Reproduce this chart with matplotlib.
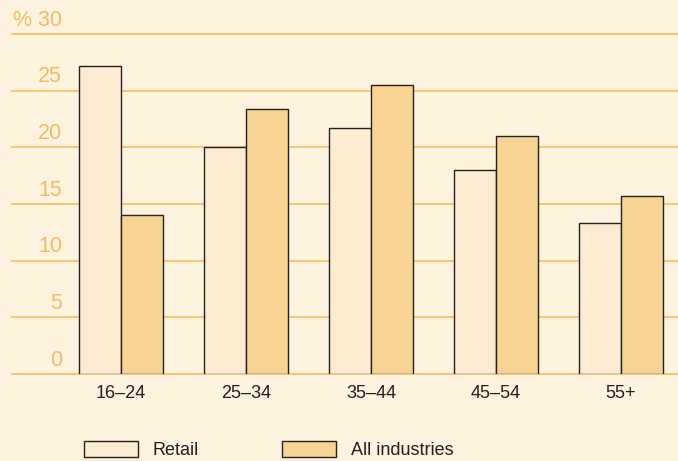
import matplotlib
matplotlib.use("Agg")
import matplotlib.pyplot as plt
import numpy as np
from matplotlib.patches import Patch

# data (per cent)
age_groups = ["16–24", "25–34", "35–44", "45–54", "55+"]
retail = [27.2, 20.0, 21.7, 18.0, 13.3]
all_industries = [14.0, 23.4, 25.5, 21.0, 15.7]
y_ticks = [0, 5, 10, 15, 20, 25, 30]

bg = "#FEF3DF"
retail_col = "#FDEBD2"
all_col = "#F9D394"
grid_col = "#F6BE5F"
label_col = "#F6BB62"
text_col = "#231F20"

plt.rcParams["font.family"] = ["Liberation Sans", "DejaVu Sans"]

fig = plt.figure(figsize=(6.78, 4.61), dpi=100, facecolor=bg)
ax = fig.add_axes([12 / 678, 87 / 461, 666 / 678, 340 / 461])
ax.set_facecolor(bg)

x = np.arange(len(age_groups))
w = 0.336
ax.bar(x - w / 2, retail, w, color=retail_col, edgecolor="#222222",
       linewidth=1.0, zorder=3)
ax.bar(x + w / 2, all_industries, w, color=all_col, edgecolor="#222222",
       linewidth=1.0, zorder=3)

for t in y_ticks:
    ax.axhline(t, color=grid_col, linewidth=1.2, zorder=1, clip_on=False)
    lab = "% 30" if t == 30 else str(t)
    ax.annotate(lab, xy=((62 - 12) / 666, t),
                xycoords=("axes fraction", "data"),
                xytext=(0, 6), textcoords="offset points",
                ha="right", va="baseline", fontsize=15.5, color=label_col)

ax.set_ylim(0, 30)
ax.set_xlim(-0.872, 4.456)
ax.set_yticks([])
ax.set_xticks(x)
ax.set_xticklabels(age_groups, fontsize=13, color=text_col)
ax.tick_params(axis="x", length=0, pad=8)
for s in ax.spines.values():
    s.set_visible(False)

handles = [Patch(facecolor=retail_col, edgecolor="#222222", linewidth=1.0, label="Retail"),
           Patch(facecolor=all_col, edgecolor="#222222", linewidth=1.0, label="All industries")]
fig.legend(handles=handles, loc="upper left", bbox_to_anchor=(84 / 678, 1 - 441 / 461),
           ncol=2, frameon=False, fontsize=13, handlelength=3.0, handleheight=0.95,
           handletextpad=0.82, columnspacing=4.6, borderpad=0, borderaxespad=0,
           labelcolor=text_col)

fig.savefig("out.png", dpi=100, facecolor=bg)
